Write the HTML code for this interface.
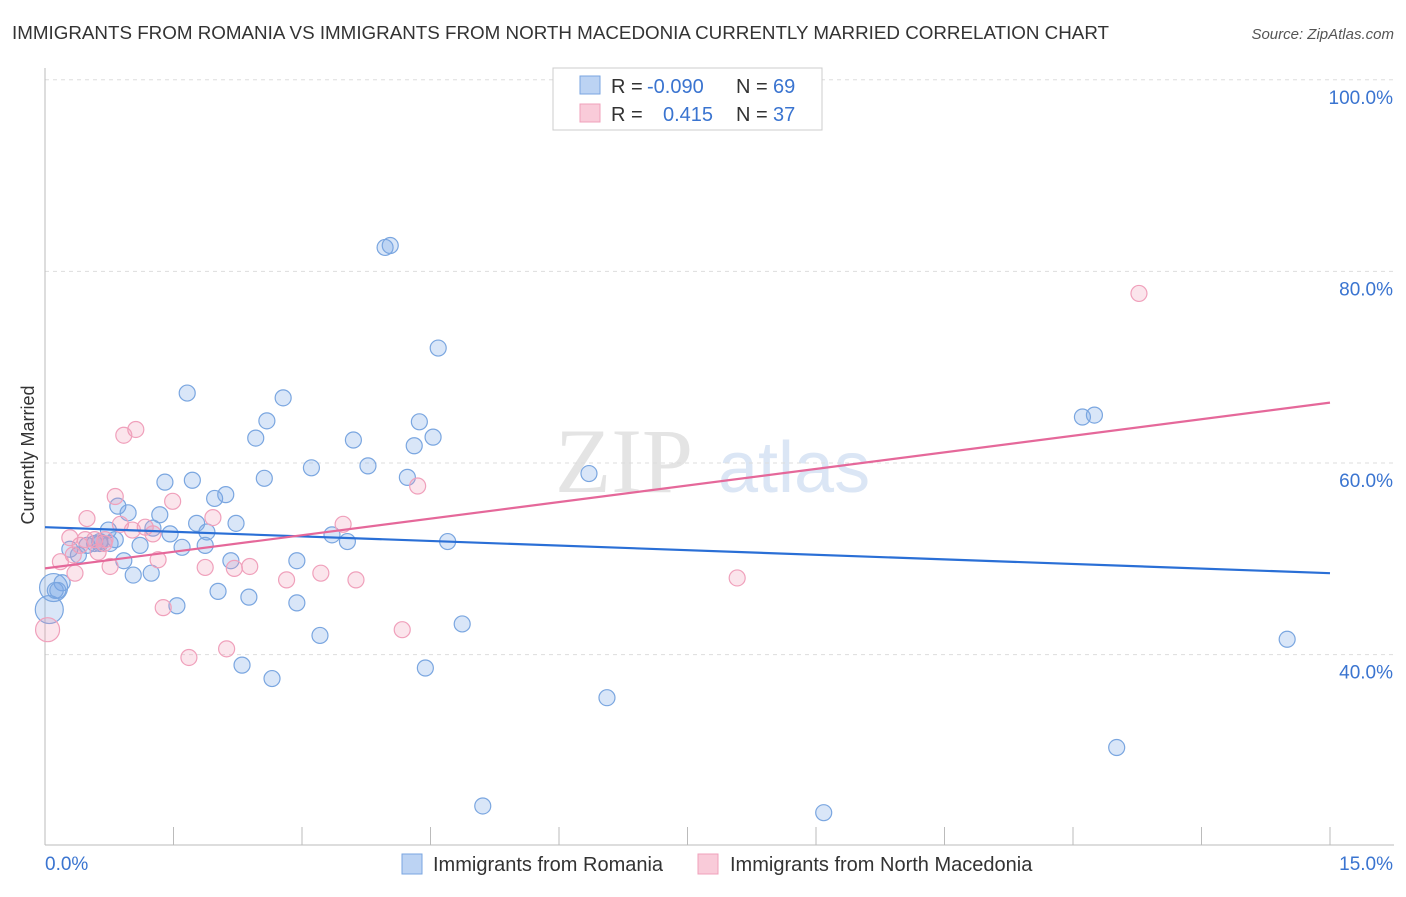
<!DOCTYPE html>
<html><head><meta charset="utf-8"><style>
body{margin:0;background:#fff;font-family:"Liberation Sans",sans-serif}
</style></head><body>
<svg width="1406" height="892" xmlns="http://www.w3.org/2000/svg">
<text x="12" y="39" font-size="18.8" fill="#333">IMMIGRANTS FROM ROMANIA VS IMMIGRANTS FROM NORTH MACEDONIA CURRENTLY MARRIED CORRELATION CHART</text>
<text x="1394" y="39" font-size="15" fill="#555" text-anchor="end" font-style="italic">Source: ZipAtlas.com</text>
<g><text x="555" y="492" font-size="92" fill="#e4e4e4" font-family="Liberation Serif,serif">ZIP</text><text x="718" y="492" font-size="72" fill="#dbe6f5">atlas</text></g>
<g id="grid"></g>
<g id="axes"></g>
<g id="pts"></g>
<g id="trends"></g>
<g>
<rect x="553" y="68" width="269" height="62" fill="#fff" stroke="#ccc"/>
<rect x="580" y="76" width="20" height="18" fill="#bcd3f3" stroke="#7aa6e0"/>
<rect x="580" y="104" width="20" height="18" fill="#f9cbd9" stroke="#f0a0bb"/>
<text y="93" font-size="20" fill="#333"><tspan x="611">R = </tspan><tspan x="647" fill="#3a74d0">-0.090</tspan><tspan x="736">N = </tspan><tspan x="773" fill="#3a74d0">69</tspan></text>
<text y="121" font-size="20" fill="#333"><tspan x="611">R = </tspan><tspan x="663" fill="#3a74d0">0.415</tspan><tspan x="736">N = </tspan><tspan x="773" fill="#3a74d0">37</tspan></text>
</g>
<g>
<rect x="402" y="854" width="20" height="20" fill="#bcd3f3" stroke="#7aa6e0"/>
<text x="433" y="871" font-size="20" fill="#333">Immigrants from Romania</text>
<rect x="698" y="854" width="20" height="20" fill="#f9cbd9" stroke="#f0a0bb"/>
<text x="730" y="871" font-size="20" fill="#333">Immigrants from North Macedonia</text>
</g>
<text x="34" y="455" font-size="18" fill="#333" text-anchor="middle" transform="rotate(-90 34 455)">Currently Married</text>
</svg>
<script>
const ns="http://www.w3.org/2000/svg";
const yTicks=[40,60,80,100];
const yTickLabels=["40.0%","60.0%","80.0%","100.0%"];
const xTicks=[0,1.5,3,4.5,6,7.5,9,10.5,12,13.5,15];
const romaniaPx=[[385,247],[390,246],[438,348],[187,393],[283,398],[267,421],[419,422],[256,438],[353,440],[433,437],[414,446],[311,468],[368,466],[264,478],[407,477],[192,480],[165,482],[589,474],[1082,417],[1094,415],[215,498],[226,495],[118,506],[128,513],[160,515],[236,523],[197,523],[108,530],[153,528],[170,534],[207,532],[332,535],[347,542],[448,542],[205,545],[182,547],[110,543],[95,543],[87,545],[100,542],[70,549],[78,555],[124,561],[297,561],[231,561],[133,575],[151,573],[62,583],[55,590],[218,591],[249,597],[177,606],[297,603],[320,635],[462,624],[242,665],[272,679],[425,668],[607,698],[1287,639],[1117,748],[483,806],[824,813],[58,590],[100,543],[115,540],[140,545]];
const macedoniaPx=[[1139,293],[136,429],[124,435],[418,486],[115,497],[173,501],[87,519],[213,518],[343,524],[120,524],[145,527],[153,534],[132,530],[70,538],[80,545],[98,552],[104,543],[73,555],[60,562],[110,566],[158,560],[205,567],[234,568],[250,566],[75,573],[287,580],[321,573],[356,580],[737,578],[163,608],[402,630],[189,657],[227,649],[85,540],[95,540],[105,540]];
const romaniaX=romaniaPx.map(p=>+((p[0]-45)/85.667).toFixed(2));
const romaniaY=romaniaPx.map(p=>+(60+(463-p[1])/9.58).toFixed(1));
const macedoniaX=macedoniaPx.map(p=>+((p[0]-45)/85.667).toFixed(2));
const macedoniaY=macedoniaPx.map(p=>+(60+(463-p[1])/9.58).toFixed(1));
const bigRomaniaX=[0.05,0.1];const bigRomaniaY=[44.7,47.0];
const bigMacedoniaX=[0.03];const bigMacedoniaY=[42.6];
const romaniaTrend=[53.3,48.5];
const macedoniaTrend=[49.0,66.3];
const X=v=>45+v/15*1285, Y=v=>463-(v-60)*9.58;
function mk(t,a,p){const e=document.createElementNS(ns,t);for(const k in a)e.setAttribute(k,a[k]);p.appendChild(e);return e;}
const g=document.getElementById('grid'),ax=document.getElementById('axes');
yTicks.forEach((v,i)=>{const l=mk('line',{x1:45,x2:1394,y1:Y(v),y2:Y(v),stroke:'#ddd','stroke-dasharray':'4,4'},g);

const t=mk('text',{x:1393,y:Y(v)+24,'font-size':19,fill:'#3a74d0','text-anchor':'end'},ax);t.textContent=yTickLabels[i];
});
mk('line',{x1:45,x2:45,y1:68,y2:845,stroke:'#bbb'},ax);
mk('line',{x1:45,x2:1394,y1:845,y2:845,stroke:'#bbb'},ax);
xTicks.forEach(v=>{const l=mk('line',{x1:X(v),x2:X(v),y1:827,y2:845,stroke:'#bbb'},ax);});
let t=mk('text',{x:45,y:870,'font-size':19,fill:'#3a74d0'},ax);t.textContent='0.0%';
t=mk('text',{x:1393,y:870,'font-size':19,fill:'#3a74d0','text-anchor':'end'},ax);t.textContent='15.0%';
const P=document.getElementById('pts');
function dots(xs,ys,r,fill,stroke,name){xs.forEach((x,i)=>{const c=mk('circle',{cx:X(x),cy:Y(ys[i]),r:r,fill:fill,stroke:stroke,'stroke-width':1.2},P);
});}
const bf='rgba(120,165,230,0.28)',bs='#7aa6e0',pf='rgba(240,150,180,0.25)',ps='#f0a0bb';
dots(bigRomaniaX,bigRomaniaY,14,bf,bs,'romania-point');
dots(bigMacedoniaX,bigMacedoniaY,12,pf,ps,'macedonia-point');
dots(romaniaX,romaniaY,8,bf,bs,'romania-point');
dots(macedoniaX,macedoniaY,8,pf,ps,'macedonia-point');
const T=document.getElementById('trends');
let l=mk('line',{x1:X(0),x2:X(15),y1:Y(romaniaTrend[0]),y2:Y(romaniaTrend[1]),stroke:'#2a6fd6','stroke-width':2.2},T);

l=mk('line',{x1:X(0),x2:X(15),y1:Y(macedoniaTrend[0]),y2:Y(macedoniaTrend[1]),stroke:'#e5689a','stroke-width':2.2},T);

</script>
</body></html>
